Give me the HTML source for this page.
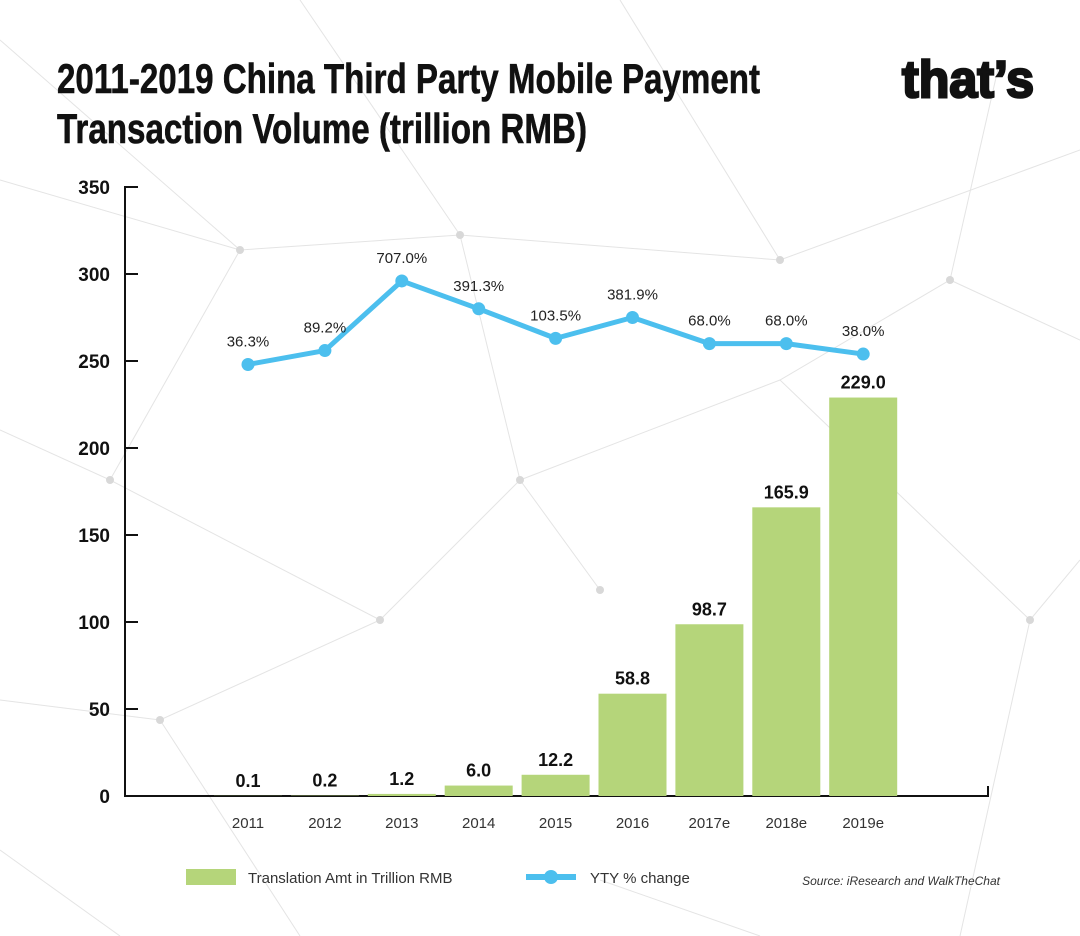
<!DOCTYPE html>
<html><head><meta charset="utf-8"><style>
body{margin:0;background:#fff;}
svg{display:block;font-family:"Liberation Sans",sans-serif;}
</style></head><body>
<svg id="c" width="1080" height="936" viewBox="0 0 1080 936">
<g id="bg" stroke="#e4e4e4" stroke-width="1" fill="none">
<path d="M0 180 L240 250 L460 235 L780 260 L1080 150 M240 250 L110 480 L0 430 M460 235 L520 480 L380 620 L110 480 M520 480 L780 380 L950 280 L1080 340 M780 380 L1030 620 L1080 560 M380 620 L160 720 L0 700 M520 480 L600 590 M950 280 L1000 60 M300 0 L460 235 M620 0 L780 260 M0 40 L240 250 M160 720 L300 936 M600 880 L760 936 M1030 620 L960 936 M0 850 L120 936"/>
</g>
<g fill="#d8d8d8">
<circle cx="240" cy="250" r="4"/><circle cx="460" cy="235" r="4"/><circle cx="780" cy="260" r="4"/><circle cx="110" cy="480" r="4"/><circle cx="520" cy="480" r="4"/><circle cx="380" cy="620" r="4"/><circle cx="950" cy="280" r="4"/><circle cx="1030" cy="620" r="4"/><circle cx="160" cy="720" r="4"/><circle cx="600" cy="590" r="4"/>
</g>
<text x="57" y="93" font-size="42" font-weight="bold" textLength="703" lengthAdjust="spacingAndGlyphs" fill="#111" stroke="#111" stroke-width="0.6">2011-2019 China Third Party Mobile Payment</text>
<text x="57" y="143" font-size="42" font-weight="bold" textLength="530" lengthAdjust="spacingAndGlyphs" fill="#111" stroke="#111" stroke-width="0.6">Transaction Volume (trillion RMB)</text>
<text x="902" y="97" font-size="52" font-weight="bold" textLength="132" lengthAdjust="spacingAndGlyphs" fill="#111" stroke="#111" stroke-width="2.5">that’s</text>
<g id="plot"></g>
<g>
<rect x="186" y="869" width="50" height="16" fill="#b5d57a"/>
<text x="248" y="883" font-size="15" fill="#333">Translation Amt in Trillion RMB</text>
<line x1="526" y1="877" x2="576" y2="877" stroke="#4cbfee" stroke-width="6"/>
<circle cx="551" cy="877" r="7" fill="#4cbfee"/>
<text x="590" y="883" font-size="15" fill="#333">YTY % change</text>
</g>
<text x="1000" y="885" font-size="12" font-style="italic" text-anchor="end" fill="#333">Source: iResearch and WalkTheChat</text>
</svg>
<script>
const categories=["2011","2012","2013","2014","2015","2016","2017e","2018e","2019e"];
const barValues=[0.1,0.2,1.2,6.0,12.2,58.8,98.7,165.9,229.0];
const barLabels=["0.1","0.2","1.2","6.0","12.2","58.8","98.7","165.9","229.0"];
const lineLevels=[248,256,296,280,263,275,260,260,254];
const pctLabels=["36.3%","89.2%","707.0%","391.3%","103.5%","381.9%","68.0%","68.0%","38.0%"];
const yTicks=[0,50,100,150,200,250,300,350];
const NS="http://www.w3.org/2000/svg";
const g=document.getElementById("plot");
const y0=796,ppu=(796-187)/350;
function ys(v){return y0-v*ppu;}
function xs(i){return 248+i*76.9;}
const bw=68;
function mk(t,a,p){const e=document.createElementNS(NS,t);for(const k in a)e.setAttribute(k,a[k]);(p||g).appendChild(e);return e;}
let ax=mk("line",{x1:125,y1:186,x2:125,y2:797,stroke:"#111","stroke-width":2});


let bx=mk("line",{x1:124,y1:796,x2:989,y2:796,stroke:"#111","stroke-width":2});


let ec=mk("line",{x1:988,y1:786,x2:988,y2:797,stroke:"#111","stroke-width":2});


yTicks.forEach(v=>{
 const tk=mk("line",{x1:125,y1:ys(v),x2:138,y2:ys(v),stroke:"#111","stroke-width":2});
 
 
 const t=mk("text",{x:110,y:ys(v)+7,"font-size":19,"font-weight":"bold","text-anchor":"end",fill:"#111"});
 t.textContent=v;
 
 
});
categories.forEach((c,i)=>{
 const r=mk("rect",{x:xs(i)-bw/2,y:ys(barValues[i]),width:bw,height:y0-ys(barValues[i]),fill:"#b5d57a"});
 
 
 const l=mk("text",{x:xs(i),y:Math.min(ys(barValues[i]),y0)-9,"font-size":18,"font-weight":"bold","text-anchor":"middle",fill:"#111"});
 l.textContent=barLabels[i];
 
 
 const xl=mk("text",{x:xs(i),y:828,"font-size":15,"text-anchor":"middle",fill:"#333"});
 xl.textContent=c;
 
 
});
const pts=lineLevels.map((v,i)=>xs(i)+","+ys(v)).join(" ");
const pl=mk("polyline",{points:pts,fill:"none",stroke:"#4cbfee","stroke-width":5,"stroke-linejoin":"round"});


lineLevels.forEach((v,i)=>{
 const p=mk("circle",{cx:xs(i),cy:ys(v),r:6.5,fill:"#4cbfee"});
 
 
 const t=mk("text",{x:xs(i),y:ys(v)-18,"font-size":15,"text-anchor":"middle",fill:"#222"});
 t.textContent=pctLabels[i];
 
 
});
</script>
</body></html>
